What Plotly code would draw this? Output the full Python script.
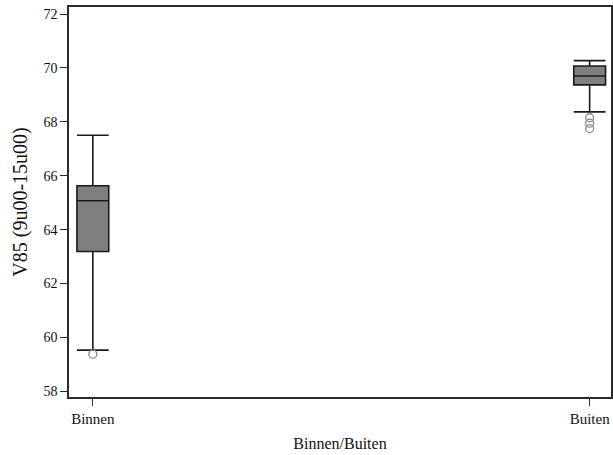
import plotly.graph_objects as go

# Category positions and labels
categories = ["Binnen", "Buiten"]
positions = [0, 1]

# Box statistics per category
q1 = [63.19, 69.37]
median = [65.07, 69.70]
q3 = [65.63, 70.07]
lower_whisker = [59.53, 68.37]
upper_whisker = [67.50, 70.27]

# Outliers per category
outliers_binnen = [59.38]
outliers_buiten = [68.15, 67.95, 67.75]

y_ticks = [58, 60, 62, 64, 66, 68, 70, 72]

FONT = "Liberation Serif"
AXIS_COLOR = "#2a2a2a"

fig = go.Figure()

fig.add_trace(go.Box(
    x=positions,
    q1=q1,
    median=median,
    q3=q3,
    lowerfence=lower_whisker,
    upperfence=upper_whisker,
    width=0.064,
    whiskerwidth=1,
    fillcolor="#7f7f7f",
    line=dict(color="#1a1a1a", width=1.6),
    boxpoints=False,
    showlegend=False,
    hoverinfo="y",
))

out_x = [positions[0]] * len(outliers_binnen) + [positions[1]] * len(outliers_buiten)
out_y = outliers_binnen + outliers_buiten
fig.add_trace(go.Scatter(
    x=out_x,
    y=out_y,
    mode="markers",
    marker=dict(symbol="circle-open", size=8, color="#8a8a8a", line=dict(width=1.3)),
    showlegend=False,
))

fig.update_layout(
    width=613,
    height=455,
    margin=dict(l=69, r=0, t=7, b=58),
    paper_bgcolor="white",
    plot_bgcolor="white",
    font=dict(family=FONT, color="#111111", size=14),
    xaxis=dict(
        range=[-0.048, 1.043],
        tickvals=positions,
        ticktext=categories,
        ticks="outside",
        ticklen=7,
        tickcolor=AXIS_COLOR,
        showline=True,
        linecolor=AXIS_COLOR,
        linewidth=1.6,
        mirror=True,
        showgrid=False,
        zeroline=False,
        tickfont=dict(size=15),
        title=dict(text="Binnen/Buiten", font=dict(size=16), standoff=12),
    ),
    yaxis=dict(
        range=[57.79, 72.26],
        tickvals=y_ticks,
        ticks="outside",
        ticklen=7,
        tickcolor=AXIS_COLOR,
        showline=True,
        linecolor=AXIS_COLOR,
        linewidth=1.6,
        mirror=True,
        showgrid=False,
        zeroline=False,
        tickfont=dict(size=14),
        title=dict(text="V85 (9u00-15u00)", font=dict(size=20), standoff=10),
    ),
)

fig.write_html("out.html")
